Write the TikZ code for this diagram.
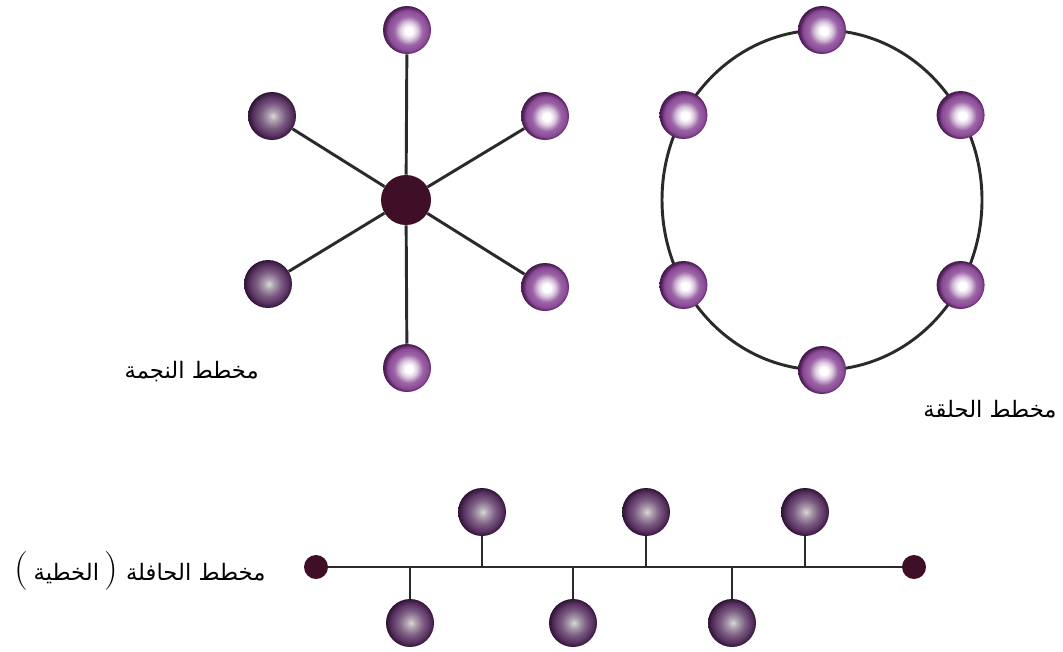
\documentclass[tikz,border=0pt]{standalone}
\usepackage{fontspec}
\newfontfamily\arabicfont[Script=Arabic]{DejaVu Sans}
\TeXXeTstate=1
\newcommand{\parenfont}{\rmfamily\fontsize{29}{30}\selectfont}
\definecolor{ringpurple}{HTML}{8A4A96}
\definecolor{ringdark}{HTML}{5A2563}
\definecolor{darkpurple}{HTML}{5A3462}
\definecolor{darkedge}{HTML}{3A1A40}
\definecolor{hubcol}{HTML}{3E0F26}
\definecolor{wire}{HTML}{2A2A2A}
\pgfdeclareradialshading{brightball}{\pgfpoint{2bp}{-1bp}}{color(0bp)=(white); color(4bp)=(white); color(9bp)=(white!70!ringpurple); color(15bp)=(ringpurple!85); color(21bp)=(ringpurple); color(24bp)=(ringdark); color(25bp)=(ringdark!80!black); color(50bp)=(ringdark!80!black)}
\pgfdeclareradialshading{dullball}{\pgfpoint{1bp}{0bp}}{color(0bp)=(gray!30!white); color(5bp)=(gray!45!darkpurple!55); color(13bp)=(darkpurple!80); color(20bp)=(darkpurple); color(24bp)=(darkedge); color(25bp)=(darkedge!80!black); color(50bp)=(darkedge!80!black)}
\tikzset{
  wireline/.style={draw=wire, line width=2.2pt},
  brightnode/.style={circle, inner sep=0pt, minimum size=36pt, shading=brightball},
  dullnode/.style={circle, inner sep=0pt, minimum size=36pt, shading=dullball},
  hubnode/.style={circle, inner sep=0pt, minimum size=37.5pt, fill=hubcol},
  enddot/.style={circle, inner sep=0pt, minimum size=18pt, fill=hubcol},
  lbl/.style={font=\arabicfont\fontsize{17}{20}\selectfont, inner sep=0pt}
}
\begin{document}
\begin{tikzpicture}[x=0.75pt, y=-0.75pt]
\useasboundingbox[fill=white] (0,0) rectangle (1063,651);

% ---------- star ----------
\node[hubnode] (hub) at (406,200) {};
\node[brightnode] (s1) at (407,30) {};
\node[brightnode] (s2) at (545,116) {};
\node[brightnode] (s3) at (545,287) {};
\node[brightnode] (s4) at (407,368) {};
\node[dullnode] (s5) at (268,284) {};
\node[dullnode] (s6) at (272,116) {};
\foreach \n in {s1,s2,s3,s4,s5,s6}{
  \draw[wireline] (hub) -- (\n);
}
\node[lbl, anchor=east] (starlbl) at (259,372) {\beginR مخطط النجمة\endR};

% ---------- ring ----------
\draw[wireline] (822,200) ellipse [x radius=160, y radius=170];
\foreach \a/\nm in {90/r1,30/r2,-30/r3,-90/r4,210/r5,150/r6}{
  \node[brightnode] (\nm) at ({822+160*cos(\a)},{200-170*sin(\a)}) {};
}
\node[lbl] (ringlbl) at (990,409) {\beginR مخطط الحلقة\endR};

% ---------- bus ----------
\node[enddot] (e1) at (316,567) {};
\node[enddot] (e2) at (914,567) {};
\draw[wireline] (e1) -- (e2);
\node[dullnode] (t1) at (482,512) {};
\node[dullnode] (t2) at (646,512) {};
\node[dullnode] (t3) at (805,512) {};
\node[dullnode] (b1) at (410,623) {};
\node[dullnode] (b2) at (573,623) {};
\node[dullnode] (b3) at (732,623) {};
\foreach \n in {t1,t2,t3}{
  \draw[wireline] (\n.south) -- (\n.south |- e1);
}
\foreach \n in {b1,b2,b3}{
  \draw[wireline] (\n.north) -- (\n.north |- e1);
}
\node[lbl] (buslbl) at (140,571) {\hbox{\parenfont(}\hspace{4pt}\hbox{\beginR الخطية\endR}\hspace{4pt}\hbox{\parenfont)}\hspace{6pt}\hbox{\beginR مخطط الحافلة\endR}};
\end{tikzpicture}
\end{document}
